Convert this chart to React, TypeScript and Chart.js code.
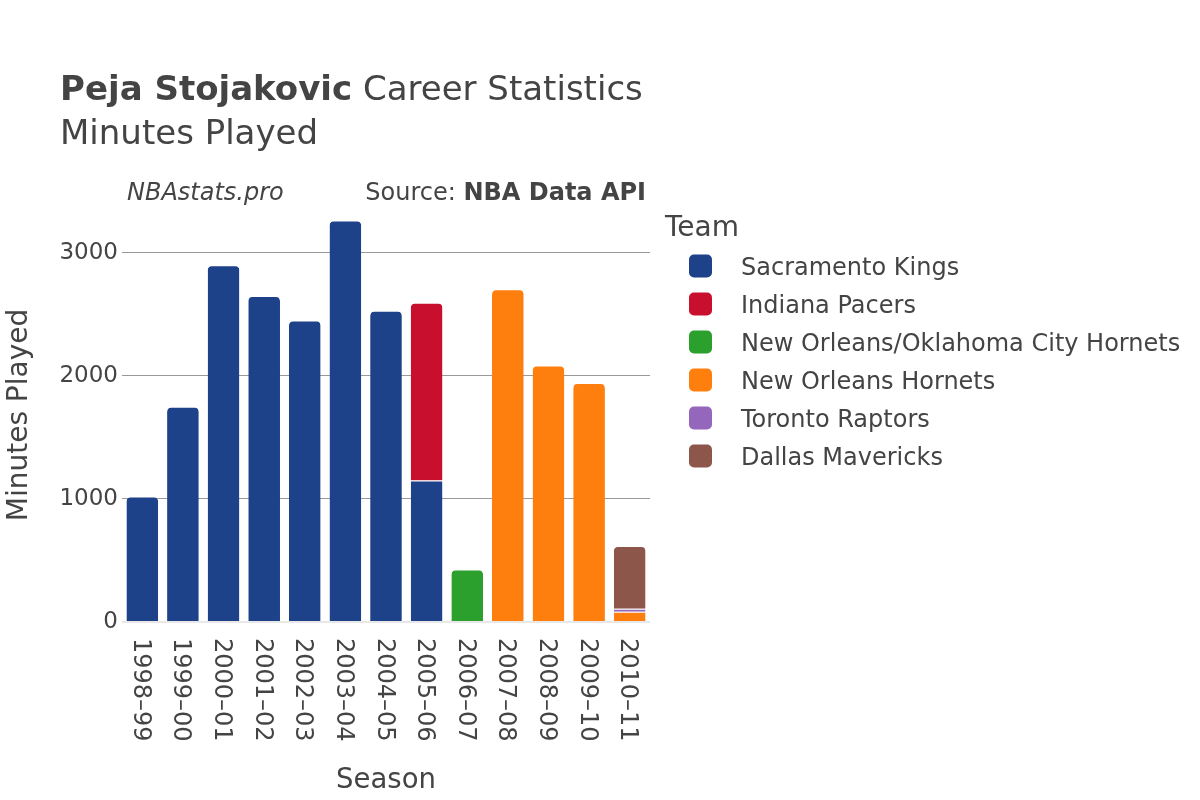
import React, { useEffect, useRef } from "react";
import { Chart, registerables } from "chart.js";

Chart.register(...registerables);

const seasons = ["1998–99", "1999–00", "2000–01", "2001–02", "2002–03", "2003–04", "2004–05", "2005–06", "2006–07", "2007–08", "2008–09", "2009–10", "2010–11"];
const teams = ["Sacramento Kings", "Indiana Pacers", "New Orleans/Oklahoma City Hornets", "New Orleans Hornets", "Toronto Raptors", "Dallas Mavericks"];
const teamColors = ["#1d428a", "#c8102e", "#2ca02c", "#ff7f0e", "#9467bd", "#8c564b"];
const kings = [1020, 1749, 2900, 2650, 2450, 3264, 2530, 1150, null, null, null, null, null];
const pacers = [null, null, null, null, null, null, null, 1445, null, null, null, null, null];
const noOkcHornets = [null, null, null, null, null, null, null, null, 426, null, null, null, null];
const noHornets = [null, null, null, null, null, null, null, null, null, 2705, 2084, 1943, 84];
const raptors = [null, null, null, null, null, null, null, null, null, null, null, null, 23];
const mavericks = [null, null, null, null, null, null, null, null, null, null, null, null, 510];
const yTicks = [0, 1000, 2000, 3000];

const seriesValues = [kings, pacers, noOkcHornets, noHornets, raptors, mavericks];

const FONT = "'DejaVu Sans', sans-serif";
const TEXT = "#444";

function topDataset(i: number): number {
  let top = -1;
  seriesValues.forEach((s, d) => {
    const v = s[i];
    if (v !== null && v !== undefined && v > 0) top = d;
  });
  return top;
}

const textPlugin = {
  id: "textPlugin",
  afterDraw(chart: any) {
    const ctx = chart.ctx;
    const area = chart.chartArea;
    const xs = chart.scales.x;
    ctx.save();
    ctx.fillStyle = TEXT;
    ctx.textAlign = "left";
    ctx.textBaseline = "alphabetic";

    // Title
    ctx.font = `bold 34px ${FONT}`;
    const bold = "Peja Stojakovic";
    ctx.fillText(bold, 60, 100);
    const bw = ctx.measureText(bold).width;
    ctx.font = `34px ${FONT}`;
    ctx.fillText(" Career Statistics", 60 + bw, 100);
    ctx.fillText("Minutes Played", 60, 144);

    // Subtitle row
    ctx.font = `italic 24px ${FONT}`;
    ctx.fillText("NBAstats.pro", 127, 200);
    ctx.font = `bold 24px ${FONT}`;
    const src = "NBA Data API";
    const sw = ctx.measureText(src).width;
    ctx.textAlign = "right";
    ctx.fillText(src, 646, 200);
    ctx.font = `24px ${FONT}`;
    ctx.fillText("Source: ", 646 - sw, 200);

    // X tick labels (rotated clockwise)
    ctx.font = `24px ${FONT}`;
    ctx.textAlign = "left";
    seasons.forEach((s, i) => {
      const cx = xs.getPixelForValue(i);
      ctx.save();
      ctx.translate(cx, area.bottom + 16);
      ctx.rotate(Math.PI / 2);
      ctx.fillText(s, 0, 8.5);
      ctx.restore();
    });

    // Axis titles
    ctx.font = `27.5px ${FONT}`;
    ctx.textAlign = "center";
    ctx.fillText("Season", (area.left + area.right) / 2, 788);
    ctx.font = `28px ${FONT}`;
    ctx.save();
    ctx.translate(27, 415);
    ctx.rotate(-Math.PI / 2);
    ctx.fillText("Minutes Played", 0, 0);
    ctx.restore();

    // Legend
    ctx.textAlign = "left";
    ctx.font = `28px ${FONT}`;
    ctx.fillText("Team", 665, 236);
    ctx.font = `24px ${FONT}`;
    chart.data.datasets.forEach((ds: any, d: number) => {
      const cy = 266 + d * 38;
      ctx.fillStyle = ds.backgroundColor;
      ctx.beginPath();
      (ctx as any).roundRect(689, cy - 11.5, 23, 23, 5);
      ctx.fill();
      ctx.fillStyle = TEXT;
      ctx.fillText(ds.label, 741, cy + 8.5);
    });
    ctx.restore();
  },
};

export default function App() {
  const ref = useRef<HTMLCanvasElement | null>(null);
  useEffect(() => {
    if (!ref.current) return;
    const datasets = teams.map((t, d) => ({
      label: t,
      data: seriesValues[d],
      backgroundColor: teamColors[d],
      borderColor: "#ffffff",
      borderWidth: { top: 1, left: 0, right: 0, bottom: 0 },
      borderRadius: (c: any) =>
        topDataset(c.dataIndex) === c.datasetIndex
          ? { topLeft: 5, topRight: 5, bottomLeft: 0, bottomRight: 0 }
          : 0,
      categoryPercentage: 1,
      barPercentage: 0.78,
    }));
    const chart = new Chart(ref.current, {
      type: "bar",
      data: { labels: seasons, datasets },
      options: {
        animation: false,
        responsive: true,
        maintainAspectRatio: false,
        layout: { padding: { left: 0, top: 200, right: 550, bottom: 0 } },
        plugins: { legend: { display: false }, tooltip: { enabled: false }, title: { display: false } },
        scales: {
          x: {
            stacked: true,
            grid: { display: false },
            border: { display: false },
            ticks: { display: false },
            afterFit: (s: any) => { s.height = 178; },
          },
          y: {
            stacked: true,
            min: 0,
            max: 3430,
            afterBuildTicks: (s: any) => { s.ticks = yTicks.map((v) => ({ value: v })); },
            ticks: {
              includeBounds: false,
              padding: 4,
              color: TEXT,
              font: { family: FONT, size: 23 },
              callback: (v: any) => String(v),
            },
            grid: {
              drawTicks: false,
              color: (c: any) => (c.tick && c.tick.value === 0 ? "#e8e8e8" : "#999999"),
              lineWidth: (c: any) => (c.tick && c.tick.value === 0 ? 2 : 1),
            },
            border: { display: false },
            afterFit: (s: any) => { s.width = 122; },
          },
        },
      },
      plugins: [textPlugin],
    });
    return () => chart.destroy();
  }, []);
  return (
    <div style={{ position: "fixed", left: 0, top: 0, width: 1200, height: 800, background: "#fff" }}>
      <canvas ref={ref} />
    </div>
  );
}
